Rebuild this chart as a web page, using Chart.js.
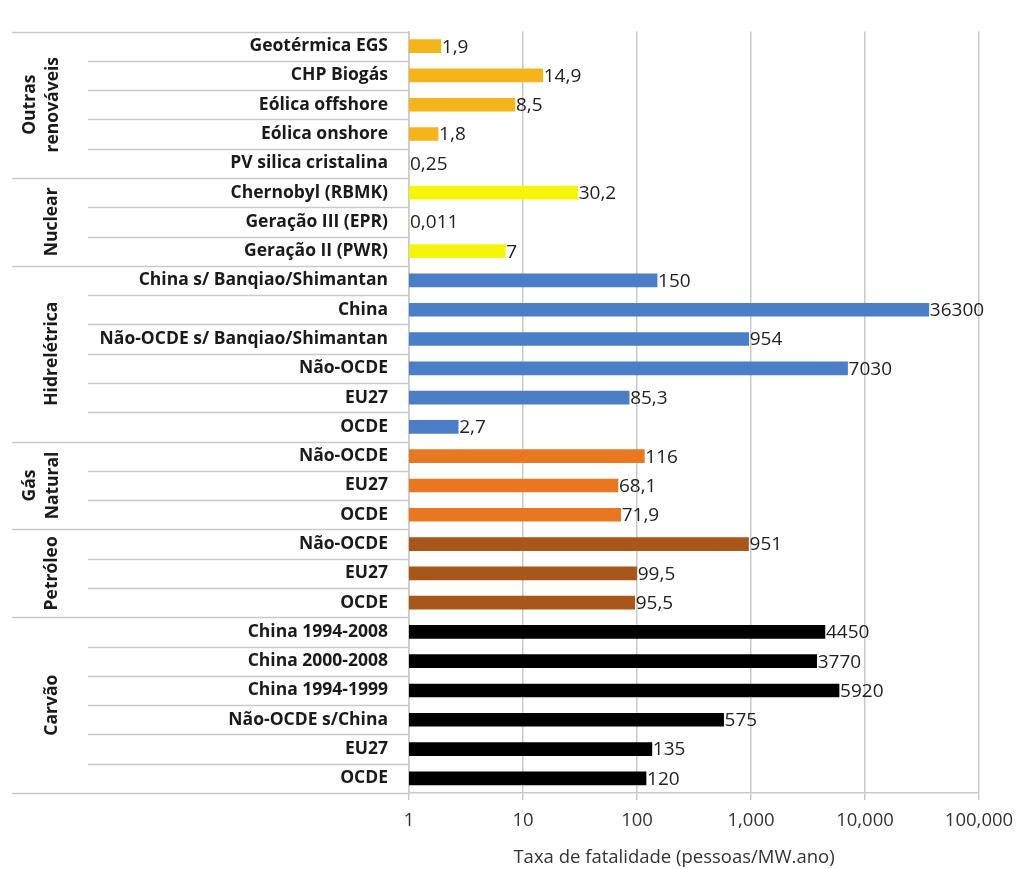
<!DOCTYPE html>
<html>
<head>
<meta charset="utf-8">
<script src="https://cdn.jsdelivr.net/npm/chart.js@4/dist/chart.umd.min.js"></script>
<style>
  body { margin: 0; background: #fff; }
</style>
</head>
<body>
<canvas id="fatalityChart" width="1019" height="869"></canvas>
<script>
// Categories and values, top to bottom
const groups = ['Outras renováveis', 'Nuclear', 'Hidrelétrica', 'Gás Natural', 'Petróleo', 'Carvão'];
const groupSizes = [5, 3, 6, 3, 3, 6];
const groupColors = ['#f4b41a', '#f5f50a', '#4a7ec6', '#e8771f', '#a8561a', '#000000'];

const categories = [
    'Geotérmica EGS', 'CHP Biogás', 'Eólica offshore', 'Eólica onshore', 'PV silica cristalina',
    'Chernobyl (RBMK)', 'Geração III (EPR)', 'Geração II (PWR)',
    'China s/ Banqiao/Shimantan', 'China', 'Não-OCDE s/ Banqiao/Shimantan', 'Não-OCDE', 'EU27', 'OCDE',
    'Não-OCDE', 'EU27', 'OCDE',
    'Não-OCDE', 'EU27', 'OCDE',
    'China 1994-2008', 'China 2000-2008', 'China 1994-1999', 'Não-OCDE s/China', 'EU27', 'OCDE'
];
const fatalityRates = [
    1.9, 14.9, 8.5, 1.8, 0.25,
    30.2, 0.011, 7,
    150, 36300, 954, 7030, 85.3, 2.7,
    116, 68.1, 71.9,
    951, 99.5, 95.5,
    4450, 3770, 5920, 575, 135, 120
];
const xTicks = [1, 10, 100, 1000, 10000, 100000];
const xTitle = 'Taxa de fatalidade (pessoas/MW.ano)';

// one colour per bar, taken from its group
const barColors = [];
groupSizes.forEach((n, g) => { for (let i = 0; i < n; i++) barColors.push(groupColors[g]); });

const FONT = '"Open Sans", "Noto Sans", sans-serif';
const LINE = '#c9c9c9';

// value written right after each bar (decimal comma)
const valueLabels = {
    id: 'valueLabels',
    afterDatasetsDraw(chart) {
        const ctx = chart.ctx;
        const meta = chart.getDatasetMeta(0);
        ctx.save();
        ctx.font = '19px ' + FONT;
        ctx.fillStyle = '#222';
        ctx.textBaseline = 'middle';
        ctx.textAlign = 'left';
        meta.data.forEach((bar, i) => {
            const x = Math.max(bar.x, chart.chartArea.left) + 1;
            ctx.fillText(String(fatalityRates[i]).replace('.', ','), x, bar.y + 1);
        });
        ctx.restore();
    }
};

// row separators, rotated group names and the axis title
const groupAxis = {
    id: 'groupAxis',
    afterDraw(chart) {
        const ctx = chart.ctx;
        const y = chart.scales.y;
        const left = chart.chartArea.left;
        const top = chart.chartArea.top, bottom = chart.chartArea.bottom;
        const edge = i => i === 0 ? top : i === categories.length ? bottom
            : (y.getPixelForValue(i - 1) + y.getPixelForValue(i)) / 2;

        const starts = [];
        let s = 0;
        groupSizes.forEach(n => { starts.push(s); s += n; });

        ctx.save();
        ctx.strokeStyle = LINE;
        ctx.lineWidth = 1.5;
        for (let i = 0; i <= categories.length; i++) {
            const isGroupEdge = i === categories.length || starts.includes(i);
            const yy = Math.round(edge(i)) + 0.5;
            ctx.beginPath();
            ctx.moveTo(isGroupEdge ? 12 : 88, yy);
            ctx.lineTo(left, yy);
            ctx.stroke();
        }

        ctx.font = 'bold 17.5px ' + FONT;
        ctx.fillStyle = '#1a1a1a';
        ctx.textAlign = 'center';
        ctx.textBaseline = 'middle';
        groups.forEach((name, g) => {
            const cy = (edge(starts[g]) + edge(starts[g] + groupSizes[g])) / 2;
            const words = name.split(' ');
            const lines = words.length === 2 ? [[words[0], 30], [words[1], 53]] : [[name, 52]];
            lines.forEach(([w, x]) => {
                ctx.save();
                ctx.translate(x, cy);
                ctx.rotate(-Math.PI / 2);
                ctx.fillText(w, 0, 0);
                ctx.restore();
            });
        });

        ctx.font = '18.5px ' + FONT;
        ctx.fillStyle = '#333';
        ctx.fillText(xTitle, 674, 858);
        ctx.restore();
    }
};

const ctx = document.getElementById('fatalityChart').getContext('2d');
const fatalityChart = new Chart(ctx, {
    type: 'bar',
    data: {
        labels: categories,
        datasets: [{
            data: fatalityRates,
            backgroundColor: barColors,
            barThickness: 13,
            clip: 0
        }]
    },
    options: {
        indexAxis: 'y',
        responsive: false,
        animation: false,
        layout: { padding: { top: 14, right: 40, left: 0, bottom: 0 } },
        plugins: {
            legend: { display: false },
            tooltip: { enabled: false }
        },
        scales: {
            x: {
                type: 'logarithmic',
                min: 1,
                max: 100000,
                afterBuildTicks: axis => { axis.ticks = xTicks.map(v => ({ value: v })); },
                afterFit: axis => {
                    axis.height = 76;
                    axis.paddingLeft = 0;
                    axis.paddingRight = 0;
                },
                grid: { color: LINE, lineWidth: 1.5, tickLength: 7 },
                border: { color: LINE, width: 1.5 },
                ticks: {
                    font: { family: FONT, size: 18.5 },
                    color: '#333',
                    padding: 10,
                    maxRotation: 0,
                    autoSkip: false,
                    callback: v => v.toLocaleString('en-US')
                }
            },
            y: {
                afterFit: axis => { axis.width = 409; },
                grid: { display: false, drawTicks: false },
                border: { color: LINE, width: 1.5 },
                ticks: {
                    font: { family: FONT, size: 17.5, weight: 'bold' },
                    color: '#1a1a1a',
                    padding: 21,
                    autoSkip: false
                }
            }
        }
    },
    plugins: [valueLabels, groupAxis]
});
</script>
</body>
</html>
